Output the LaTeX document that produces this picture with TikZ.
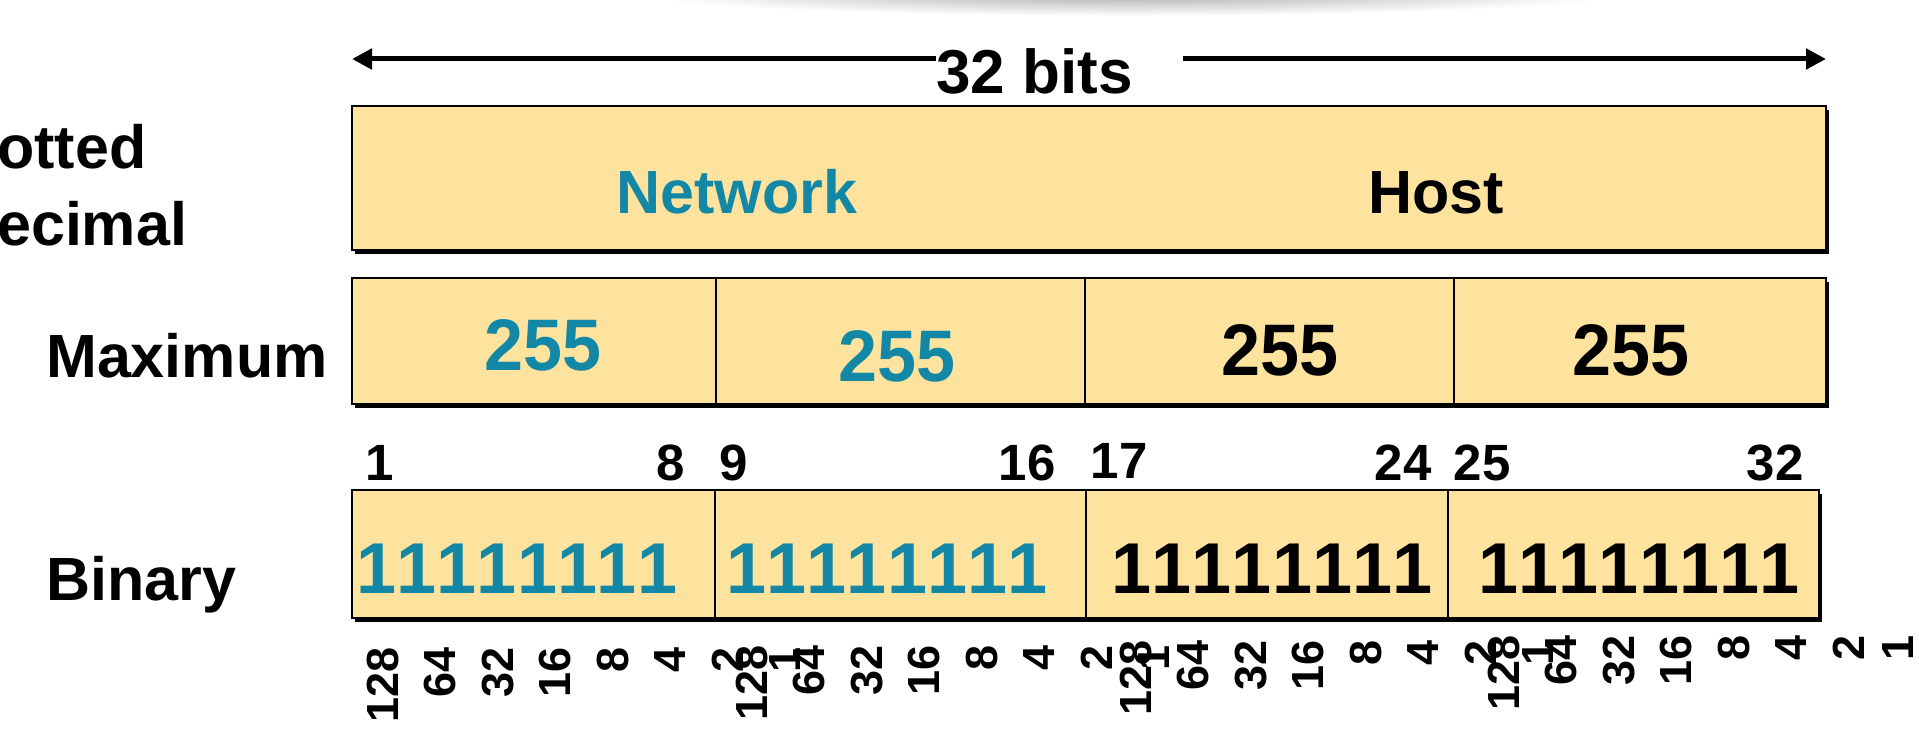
\documentclass[tikz,border=0pt]{standalone}
\usepackage{fontspec}
\setmainfont{Liberation Sans}
\usetikzlibrary{arrows.meta,shadows}
\definecolor{fieldfill}{RGB}{253,227,158}
\definecolor{nettext}{RGB}{18,135,166}
\begin{document}
\begin{tikzpicture}[x=1pt,y=-1pt,
	field/.style={draw,line width=1.5pt,fill=fieldfill,anchor=north west,inner sep=0pt,outer sep=0pt,
		drop shadow={fill=black,opacity=1,shadow xshift=3pt,shadow yshift=-4pt}},
	rowname/.style={font=\bfseries\fontsize{61}{70}\selectfont,anchor=base west,inner sep=0pt},
	head/.style={font=\bfseries\fontsize{61}{70}\selectfont,anchor=base,inner sep=0pt},
	big/.style={font=\bfseries\fontsize{73}{80}\selectfont\addfontfeature{FakeStretch=0.96},anchor=base,inner sep=0pt},
	octet/.style={big,font=\bfseries\fontsize{72}{80}\selectfont\addfontfeature{LetterSpace=5.5}},
	bitno/.style={font=\bfseries\fontsize{51}{60}\selectfont,anchor=base,inner sep=0pt},
	weight/.style={font=\bfseries\fontsize{45}{50}\selectfont,rotate=90,anchor=east,inner sep=0pt},
	bitsarrow/.style={line width=5pt,-{Triangle[length=20pt,width=20pt]}}]
\useasboundingbox (0,0) rectangle (1919,752);
\shade[inner color=gray!70,outer color=white] (1130,-8) ellipse [x radius=500,y radius=24];
\coordinate (bitsL) at (352,59);
\coordinate (bitsR) at (1826,59);
\node[font=\bfseries\fontsize{62}{70}\selectfont,anchor=base west,inner sep=0pt] (bits) at (936,93) {32 bits};
\draw[bitsarrow] (bits.west |- bitsL) -- (bitsL);
\draw[bitsarrow,shorten <=50pt] (bits.east |- bitsR) -- (bitsR);
\node[rowname] (dotted) at (-3,168) {otted};
\node[rowname] (decimal) at (-3,245) {ecimal};
\node[rowname] (maximum) at (46,377) {Maximum};
\node[rowname] (binary) at (46,600) {Binary};
\node[field,minimum width=1474pt,minimum height=144pt] (addr) at (352,106) {};
\node[head,text=nettext] (network) at (737,213) {Network};
\node[head] (host) at (1436,213) {Host};
\foreach \l/\w [count=\i] in {352/364, 716/369, 1085/369, 1454/372}
	\node[field,minimum width=\w pt,minimum height=126pt] (max\i) at (\l,278) {};
\node[big,text=nettext] (dec1) at (543,370) {255};
\node[big,text=nettext] (dec2) at (897,381) {255};
\node[big] (dec3) at (1280,375) {255};
\node[big] (dec4) at (1631,375) {255};
\foreach \n/\x/\y in {1/380/480, 8/671/480, 9/734/480, 16/1027/480, 17/1119/478, 24/1403/480, 25/1482/480, 32/1775/480}
	\node[bitno] (bit\n) at (\x,\y) {\n};
\foreach \l/\w [count=\i] in {352/363, 715/371, 1086/362, 1448/371}
	\node[field,minimum width=\w pt,minimum height=128pt] (bin\i) at (\l,490) {};
\node[octet,text=nettext] (oct1) at (517,593) {11111111};
\node[octet,text=nettext] (oct2) at (887,593) {11111111};
\node[octet] (oct3) at (1272,593) {11111111};
\node[octet] (oct4) at (1639,593) {11111111};
\foreach \bx/\by [count=\b] in {383/647, 752/645, 1136/640, 1504/635}
	\foreach \w [count=\i from 0] in {128,64,32,16,8,4,2,1}
		\node[weight] (w\b-\w) at ({min(\bx+57.4*\i,1898)},\by) {\w};
\end{tikzpicture}
\end{document}
